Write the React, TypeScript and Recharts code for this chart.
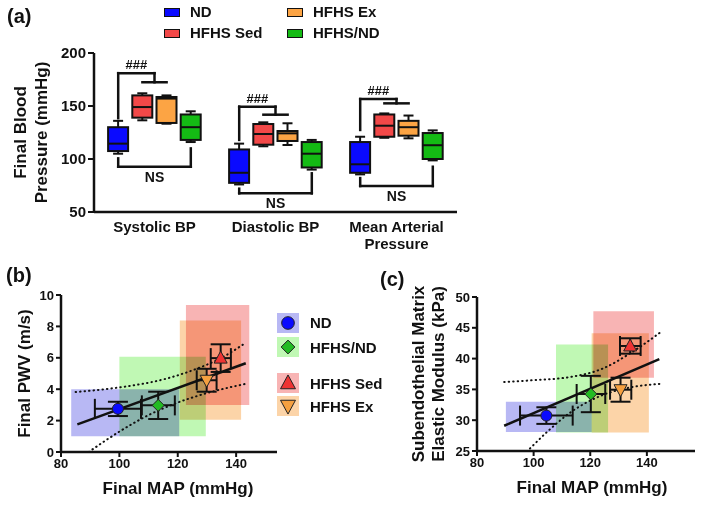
import React from 'react';
import {
  ComposedChart,
  Bar,
  Scatter,
  Line,
  XAxis,
  YAxis,
  ReferenceLine,
  ReferenceArea,
  ErrorBar,
} from 'recharts';

const FONT = '"Liberation Sans", Arial, Helvetica, sans-serif';
const INK = '#111';

// ---------- (a) final blood pressure ----------
const categories = ['Systolic BP', 'Diastolic BP', 'Mean Arterial\nPressure'];
const groups = ['ND', 'HFHS Sed', 'HFHS Ex', 'HFHS/ND'];
const groupColors = ['#0a0aff', '#f24848', '#fca444', '#14bb14'];

// [whisker low, Q1, median, Q3, whisker high], one entry per category
const ndBP = [[105, 107.5, 114.5, 130, 136], [76, 77.5, 87, 109, 114.5], [85.5, 87, 95, 116, 121]];
const sedBP = [[136.5, 139, 149, 160, 162], [112, 113.5, 123.6, 133, 134.6], [120, 121, 131.4, 142, 143]];
const exBP = [[133.3, 134, 157, 158.5, 160], [113.2, 117, 124.2, 126.4, 133.7], [119.5, 122, 130, 136, 141]];
const ndHfhsBP = [[116, 118, 130, 142, 145], [90, 92, 105, 116, 118], [98.7, 100, 113, 124.5, 127]];
const bpStats = [ndBP, sedBP, exBP, ndHfhsBP];

// ### bracket: [ND start, top level, drop level]
const hashBrackets = [[138.5, 181, 172.4], [118, 149.4, 141.8], [127.4, 156.6, 152.5]];
// NS bracket: [ND start, bottom level, HFHS/ND start]
const nsBrackets = [[100.6, 92.7, 110], [72, 67.6, 86.5], [82, 74.5, 92.7]];

const BOX_STEP = 0.2;
const boxX = (cat: number, g: number) => cat + 0.5 + (g - 1.5) * BOX_STEP;

const boxRows = categories.flatMap((_, c) =>
  groups.map((g, j) => {
    const s = bpStats[j][c];
    return { pos: boxX(c, j), range: [s[0], s[4]], stats: s, color: groupColors[j], group: g };
  })
);

const BoxShape = (props: any) => {
  const { x, y, width, height, index } = props;
  const row = props.payload && props.payload.stats ? props.payload : boxRows[index];
  const [lo, q1, med, q3, hi] = row.stats;
  const k = height / (hi - lo);
  const py = (v: number) => y + (hi - v) * k;
  const cx = x + width / 2;
  const cap = width / 4;
  return (
    <g stroke={INK} strokeWidth={2}>
      <line x1={cx} x2={cx} y1={py(hi)} y2={py(lo)} />
      <line x1={cx - cap} x2={cx + cap} y1={py(hi)} y2={py(hi)} />
      <line x1={cx - cap} x2={cx + cap} y1={py(lo)} y2={py(lo)} />
      <rect x={x} y={py(q3)} width={width} height={py(q1) - py(q3)} fill={row.color} />
      <line x1={x} x2={x + width} y1={py(med)} y2={py(med)} />
    </g>
  );
};

const CatTick = (props: any) => {
  const { x, y, payload } = props;
  const lines = categories[Math.floor(payload.value)].split('\n');
  return (
    <g>
      {lines.map((t, i) => (
        <text key={t} x={x} y={y + 17.5 + i * 17} textAnchor="middle" fontSize={15} fontWeight={700} fill={INK} fontFamily={FONT}>
          {t}
        </text>
      ))}
    </g>
  );
};

const vTitle = (lines: string[], xs: number[], size: number) => (props: any) => {
  const vb = props.viewBox || { x: 0, y: 0, width: 0, height: 0 };
  const cy = vb.y + vb.height / 2;
  return (
    <g>
      {lines.map((t, i) => (
        <text
          key={t}
          x={xs[i]}
          y={cy}
          transform={`rotate(-90 ${xs[i]} ${cy})`}
          textAnchor="middle"
          dominantBaseline="central"
          fontSize={size}
          fontWeight={700}
          fill={INK}
          fontFamily={FONT}
        >
          {t}
        </text>
      ))}
    </g>
  );
};

const hTitle = (text: string, dx: number, dy: number) => (props: any) => {
  const vb = props.viewBox || { x: 0, y: 0, width: 0, height: 0 };
  return (
    <text
      x={vb.x + vb.width / 2 + dx}
      y={vb.y + dy}
      textAnchor="middle"
      dominantBaseline="central"
      fontSize={17}
      fontWeight={700}
      fill={INK}
      fontFamily={FONT}
    >
      {text}
    </text>
  );
};

const lineStyle = { stroke: INK, strokeWidth: 2.5, strokeLinecap: 'square' as const };

function BoxPanel() {
  const refs: any[] = [];
  categories.forEach((_, c) => {
    const xnd = boxX(c, 0);
    const xsed = boxX(c, 1);
    const xex = boxX(c, 2);
    const xgr = boxX(c, 3);
    const xmid = (xsed + xex) / 2;
    const [hs, ht, hd] = hashBrackets[c];
    const [ns, nl, ng] = nsBrackets[c];
    refs.push(
      <ReferenceLine key={`h1${c}`} segment={[{ x: xnd, y: hs }, { x: xnd, y: ht }]} {...lineStyle} ifOverflow="visible" />,
      <ReferenceLine
        key={`h2${c}`}
        segment={[{ x: xnd, y: ht }, { x: xmid, y: ht }]}
        {...lineStyle}
        ifOverflow="visible"
        label={{ value: '###', position: 'top', offset: 4, fill: INK, fontSize: 13, fontWeight: 700, fontFamily: FONT }}
      />,
      <ReferenceLine key={`h3${c}`} segment={[{ x: xmid, y: ht }, { x: xmid, y: hd }]} {...lineStyle} ifOverflow="visible" />,
      <ReferenceLine key={`h4${c}`} segment={[{ x: xsed, y: hd }, { x: xex, y: hd }]} {...lineStyle} ifOverflow="visible" />,
      <ReferenceLine key={`n1${c}`} segment={[{ x: xnd, y: ns }, { x: xnd, y: nl }]} {...lineStyle} ifOverflow="visible" />,
      <ReferenceLine
        key={`n2${c}`}
        segment={[{ x: xnd, y: nl }, { x: xgr, y: nl }]}
        {...lineStyle}
        ifOverflow="visible"
        label={{ value: 'NS', position: 'bottom', offset: 5, fill: INK, fontSize: 14, fontWeight: 700, fontFamily: FONT }}
      />,
      <ReferenceLine key={`n3${c}`} segment={[{ x: xgr, y: nl }, { x: xgr, y: ng }]} {...lineStyle} ifOverflow="visible" />
    );
  });

  return (
    <ComposedChart width={470} height={260} data={boxRows} margin={{ top: 53, right: 13, left: 0, bottom: 3 }}>
      <XAxis
        type="number"
        dataKey="pos"
        domain={[0, 3]}
        ticks={[0.5, 1.5, 2.5]}
        interval={0}
        tick={<CatTick />}
        tickLine={false}
        tickSize={0}
        height={45}
        axisLine={{ stroke: INK, strokeWidth: 2.5 }}
      />
      <YAxis
        type="number"
        domain={[50, 200]}
        ticks={[50, 100, 150, 200]}
        width={94}
        tickSize={6}
        tick={{ fill: INK, fontSize: 15, fontWeight: 700, fontFamily: FONT }}
        axisLine={{ stroke: INK, strokeWidth: 2.5 }}
        tickLine={{ stroke: INK, strokeWidth: 2 }}
        label={vTitle(['Final Blood', 'Pressure (mmHg)'], [20, 41], 17)}
      />
      <Bar dataKey="range" barSize={20} shape={BoxShape} isAnimationActive={false} />
      {refs}
    </ComposedChart>
  );
}

// ---------- (b), (c) MAP correlations ----------
const fitGroups = ['ND', 'HFHS/ND', 'HFHS Sed', 'HFHS Ex'];
const markerColors = ['#0a0aff', '#22bb22', '#ee3333', '#f5a040'];
const areaColors = ['#b8b8f4', '#c0f8b4', '#f8b4b4', '#fcd4a8'];

// (b) PWV vs MAP
const pwvMap = [99.5, 113.3, 134.7, 129.9];
const pwvVal = [2.75, 2.97, 5.98, 4.57];
const pwvMapErr = [[91.6, 107.4], [107.7, 119], [131.3, 138.2], [126.5, 133.3]];
const pwvValErr = [[2.29, 3.2], [2.1, 3.84], [5.1, 6.86], [3.84, 5.3]];
const pwvRanges = [[83.5, 120.5, 1, 4], [100, 129.6, 1, 6.07], [122.8, 144.5, 3, 9.36], [120.7, 141.7, 2.05, 8.37]];
const pwvFit = [[85.6, 1.76], [143.3, 5.65]];
const pwvUpper = [[85, 3.82], [95, 4.0], [105, 4.25], [115, 4.62], [125, 5.2], [135, 6.0], [143, 6.92]];
const pwvLower = [[89.5, 0], [95, 0.7], [100, 1.3], [110, 2.35], [120, 3.15], [130, 3.75], [143, 4.33]];

// (c) subendothelial modulus vs MAP
const modMap = [104.5, 120.2, 134.1, 130.7];
const modVal = [30.75, 34.25, 42.05, 34.95];
const modMapErr = [[95.2, 113.8], [115.2, 125.3], [130.5, 137.8], [127, 134.5]];
const modValErr = [[29.4, 32.1], [31.3, 37.2], [40.8, 43.3], [33, 36.9]];
const modRanges = [[90.2, 120.5, 28.1, 33], [107.9, 126.3, 28, 42.3], [121.1, 142.5, 36.9, 47.7], [120.5, 140.7, 28, 44.1]];
const modFit = [[89.6, 29.1], [144.4, 39.9]];
const modUpper = [[89.6, 36.2], [100, 36.5], [112.8, 37.0], [124.5, 38.4], [133.9, 40.8], [144.6, 44.2]];
const modLower = [[98.7, 25.4], [105, 28.2], [112.8, 31.2], [124.5, 34.1], [133.9, 35.3], [144.6, 35.9]];

const Marker = ({ kind, cx, cy, scale = 1 }: { kind: number; cx: number; cy: number; scale?: number }) => {
  const fill = markerColors[kind];
  const st = { fill, stroke: '#222', strokeWidth: 1 };
  if (kind === 0) return <circle cx={cx} cy={cy} r={5.5 * scale} {...st} />;
  if (kind === 1) {
    const d = 6 * scale;
    return <polygon points={`${cx},${cy - d} ${cx + d},${cy} ${cx},${cy + d} ${cx - d},${cy}`} {...st} />;
  }
  const w = 6.5 * scale;
  const h1 = 7 * scale;
  const h2 = 5 * scale;
  if (kind === 2) return <polygon points={`${cx},${cy - h1} ${cx + w},${cy + h2} ${cx - w},${cy + h2}`} {...st} />;
  return <polygon points={`${cx},${cy + h1} ${cx + w},${cy - h2} ${cx - w},${cy - h2}`} {...st} />;
};

const toXY = (pts: number[][]) => pts.map(([x, y]) => ({ x, y }));

function FitPanel(p: any) {
  const rows = fitGroups.map((g, i) => ({
    group: g,
    kind: i,
    x: p.xs[i],
    y: p.ys[i],
    ex: [p.xs[i] - p.xErr[i][0], p.xErr[i][1] - p.xs[i]],
    ey: [p.ys[i] - p.yErr[i][0], p.yErr[i][1] - p.ys[i]],
  }));
  const axisLine = { stroke: INK, strokeWidth: 2.5 };
  const tickLine = { stroke: INK, strokeWidth: 2 };
  const tick = { fill: INK, fontSize: 13, fontWeight: 700, fontFamily: FONT };
  return (
    <ComposedChart width={p.width} height={257} margin={{ top: p.top, right: p.right, left: 0, bottom: 5 }}>
      <XAxis
        type="number"
        dataKey="x"
        domain={p.xDomain}
        ticks={[80, 100, 120, 140]}
        allowDataOverflow
        tickSize={5}
        tick={tick}
        axisLine={axisLine}
        tickLine={tickLine}
        height={p.bottomH}
        label={hTitle('Final MAP (mmHg)', p.xLabelDx, 36)}
      />
      <YAxis
        type="number"
        dataKey="y"
        domain={p.yDomain}
        ticks={p.yTicks}
        allowDataOverflow
        width={p.yWidth}
        tickSize={5}
        tick={tick}
        axisLine={axisLine}
        tickLine={tickLine}
        label={vTitle(p.titleLines, p.titleXs, 17)}
      />
      {p.ranges.map((r: number[], i: number) => (
        <ReferenceArea key={i} x1={r[0]} x2={r[1]} y1={r[2]} y2={r[3]} fill={areaColors[i]} fillOpacity={1} stroke="none" ifOverflow="visible" />
      ))}
      <Line data={toXY(p.upper)} dataKey="y" type="monotone" stroke={INK} strokeWidth={2} strokeDasharray="0.5 4" strokeLinecap="round" dot={false} isAnimationActive={false} />
      <Line data={toXY(p.lower)} dataKey="y" type="monotone" stroke={INK} strokeWidth={2} strokeDasharray="0.5 4" strokeLinecap="round" dot={false} isAnimationActive={false} />
      <Line data={toXY(p.fit)} dataKey="y" type="linear" stroke={INK} strokeWidth={2.5} dot={false} isAnimationActive={false} />
      <Scatter
        data={rows}
        dataKey="y"
        isAnimationActive={false}
        shape={(s: any) => <Marker kind={s.payload.kind} cx={s.cx} cy={s.cy} />}
      >
        <ErrorBar dataKey="ex" direction="x" width={10} stroke={INK} strokeWidth={2} />
        <ErrorBar dataKey="ey" direction="y" width={10} stroke={INK} strokeWidth={2} />
      </Scatter>
    </ComposedChart>
  );
}

const legendA = groups.map((g, j) => ({ g, color: groupColors[j], left: j < 2 ? 164 : 287, top: j % 2 === 0 ? 7 : 28 }));
const legendBC = [322.5, 347, 383, 406];

export default function App() {
  return (
    <div
      style={{
        position: 'absolute',
        left: 0,
        top: 0,
        width: 701,
        height: 507,
        background: '#fff',
        fontFamily: FONT,
        fontWeight: 700,
        color: INK,
        overflow: 'hidden',
      }}
    >
      <style>{`.recharts-reference-area-rect{mix-blend-mode:multiply}`}</style>

      <div style={{ position: 'absolute', left: 0, top: 0 }}>
        <BoxPanel />
      </div>
      <div style={{ position: 'absolute', left: 0, top: 250 }}>
        <FitPanel
          width={290}
          top={45}
          right={13}
          bottomH={50}
          yWidth={61}
          xs={pwvMap}
          ys={pwvVal}
          xErr={pwvMapErr}
          yErr={pwvValErr}
          ranges={pwvRanges}
          fit={pwvFit}
          upper={pwvUpper}
          lower={pwvLower}
          xDomain={[80, 154]}
          yDomain={[0, 10]}
          yTicks={[0, 2, 4, 6, 8, 10]}
          titleLines={['Final PWV (m/s)']}
          titleXs={[24]}
          xLabelDx={9}
        />
      </div>
      <div style={{ position: 'absolute', left: 360, top: 250 }}>
        <FitPanel
          width={341}
          top={47}
          right={6}
          bottomH={51}
          yWidth={117}
          xs={modMap}
          ys={modVal}
          xErr={modMapErr}
          yErr={modValErr}
          ranges={modRanges}
          fit={modFit}
          upper={modUpper}
          lower={modLower}
          xDomain={[80, 157]}
          yDomain={[25, 50]}
          yTicks={[25, 30, 35, 40, 45, 50]}
          titleLines={['Subendothelial Matrix', 'Elastic Modulus (kPa)']}
          titleXs={[58, 78]}
          xLabelDx={6}
        />
      </div>

      {/* panel letters */}
      <div style={{ position: 'absolute', left: 7, top: 5, fontSize: 20 }}>(a)</div>
      <div style={{ position: 'absolute', left: 6, top: 264, fontSize: 20 }}>(b)</div>
      <div style={{ position: 'absolute', left: 380, top: 268, fontSize: 20 }}>(c)</div>

      {/* legend (a) */}
      {legendA.map((l) => (
        <div key={l.g} style={{ position: 'absolute', left: l.left, top: l.top, display: 'flex', alignItems: 'center', height: 10 }}>
          <div style={{ width: 14, height: 7, background: l.color, border: `1.5px solid ${INK}` }} />
          <span style={{ marginLeft: 10, fontSize: 15, lineHeight: '10px' }}>{l.g}</span>
        </div>
      ))}

      {/* legend (b)/(c) */}
      {fitGroups.map((g, i) => (
        <div key={g} style={{ position: 'absolute', left: 277, top: legendBC[i] - 10, height: 20, display: 'flex', alignItems: 'center' }}>
          <svg width={22} height={20} style={{ display: 'block' }}>
            <rect x={0} y={0} width={22} height={20} fill={areaColors[i]} />
            <Marker kind={i} cx={11} cy={10} scale={1.15} />
          </svg>
          <span style={{ marginLeft: 11, fontSize: 15 }}>{g}</span>
        </div>
      ))}
    </div>
  );
}
